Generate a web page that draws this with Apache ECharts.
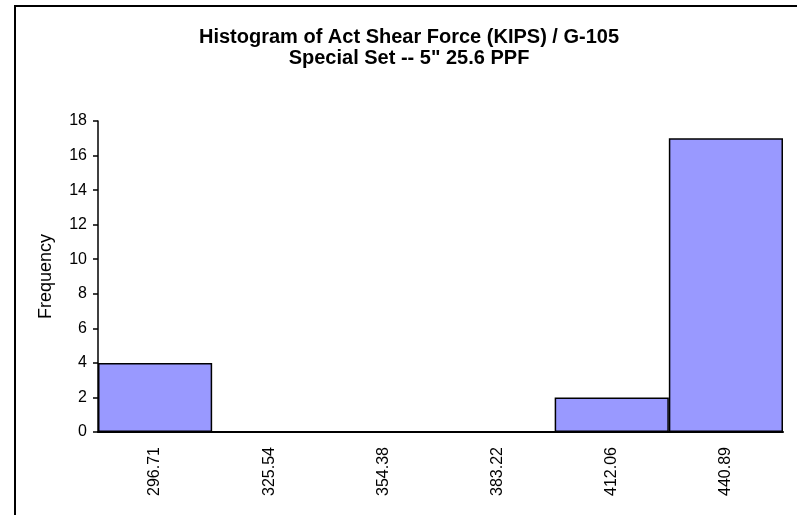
<!DOCTYPE html>
<html>
<head>
<meta charset="utf-8">
<script src="https://cdn.jsdelivr.net/npm/echarts@6/dist/echarts.min.js"></script>
<style>html,body{margin:0;padding:0;background:#fff;}#c{width:797px;height:515px;}</style>
</head>
<body>
<div id="c"></div>
<script>
var categories = ['296.71', '325.54', '354.38', '383.22', '412.06', '440.89'];
var frequency = [4, 0, 0, 0, 2, 17];
var yTicks = {min: 0, max: 18, interval: 2};

var FONT = 'Liberation Sans, Arial, sans-serif';
var chart = echarts.init(document.getElementById('c'));
chart.setOption({
  animation: false,
  backgroundColor: '#fff',
  textStyle: {fontFamily: FONT},
  title: {
    text: 'Histogram of Act Shear Force (KIPS) / G-105\nSpecial Set -- 5" 25.6 PPF',
    left: 404, top: 22, textAlign: 'center',
    textStyle: {fontFamily: FONT, fontSize: 20, fontWeight: 'bold', color: '#000', lineHeight: 21}
  },
  graphic: [{
    type: 'rect', shape: {x: 15, y: 6, width: 800, height: 520},
    style: {fill: 'none', stroke: '#000', lineWidth: 2}, silent: true, z: 100
  }],
  grid: {left: 98, right: 14, top: 121, bottom: 83, containLabel: false},
  xAxis: {
    type: 'category', data: categories, boundaryGap: true,
    axisLine: {show: true, lineStyle: {color: '#000', width: 2}},
    axisTick: {show: false},
    axisLabel: {rotate: 90, color: '#000', fontSize: 16, margin: 15, fontFamily: FONT}
  },
  yAxis: {
    type: 'value', min: yTicks.min, max: yTicks.max, interval: yTicks.interval,
    name: 'Frequency', nameLocation: 'middle', nameGap: 43, nameRotate: 90,
    nameTextStyle: {color: '#000', fontSize: 18, fontFamily: FONT},
    axisLine: {show: true, lineStyle: {color: '#000', width: 1.5}},
    axisTick: {show: true, inside: false, length: 5, lineStyle: {color: '#000', width: 1.5}},
    axisLabel: {color: '#000', fontSize: 16, margin: 11, fontFamily: FONT},
    splitLine: {show: false}
  },
  series: [{
    type: 'bar', data: frequency, barCategoryGap: 0, barGap: 0,
    itemStyle: {color: '#9999FF', borderColor: '#000', borderWidth: 1.5}
  }]
});
</script>
</body>
</html>
